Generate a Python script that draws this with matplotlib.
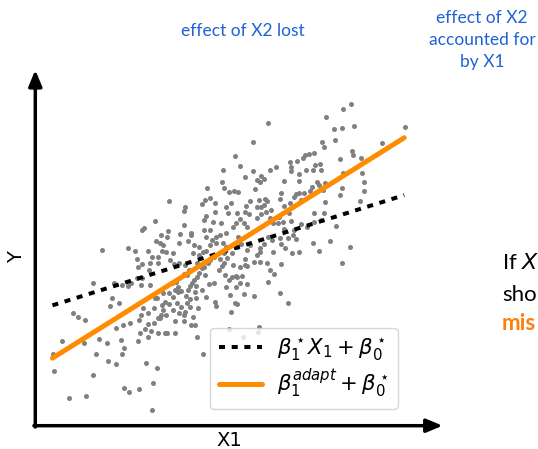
import matplotlib
matplotlib.use("Agg")
import matplotlib.pyplot as plt

# ---- data ----
X1 = [9.20, 8.98, 8.48, 6.77, 9.28, 8.94, 8.71, 10.77, 8.74, 8.34, 6.34, 8.40, 10.10, 9.23, 9.25, 9.49, 8.89, 5.83, 7.85, 7.97,
      8.12, 7.80, 7.62, 7.43, 7.45, 8.15, 8.30, 8.33, 8.10, 7.88, 7.67, 7.46, 7.00, 6.83, 5.97, 5.48, 6.10, 6.33, 6.58, 6.47,
      6.66, 6.54, 6.39, 7.25, 7.68, 9.52, 8.97, 9.59, 9.59, 9.47, 8.93, 8.89, 8.39, 8.44, 8.26, 8.21, 8.05, 8.01, 7.84, 7.68,
      7.59, 7.54, 7.74, 7.43, 7.16, 7.14, 7.26, 7.39, 7.45, 7.22, 7.10, 6.87, 6.75, 6.69, 6.65, 6.57, 6.52, 6.45, 6.26, 6.24,
      6.10, 6.13, 5.92, 5.80, 5.63, 5.50, 5.45, 5.01, 5.10, 4.94, 4.86, 5.24, 5.55, 5.69, 5.62, 5.88, 5.97, 5.85, 5.77, 6.07,
      6.17, 6.47, 6.57, 6.72, 6.83, 6.94, 7.07, 7.25, 7.53, 7.74, 7.92, 8.11, 8.33, 8.42, 8.43, 8.12, 8.75, 8.59, 8.27, 8.09,
      7.69, 7.49, 7.27, 7.17, 9.17, 8.95, 7.59, 7.52, 7.37, 7.14, 6.91, 6.77, 6.65, 6.54, 6.55, 6.46, 6.27, 6.17, 6.12, 6.17,
      6.37, 6.54, 6.75, 6.94, 7.15, 6.85, 6.97, 6.77, 7.13, 7.37, 6.37, 6.09, 6.17, 6.02, 5.84, 5.72, 5.85, 5.67, 5.83, 5.88,
      5.69, 5.56, 5.45, 5.50, 5.35, 5.22, 5.26, 5.08, 4.98, 4.89, 4.76, 4.72, 4.91, 4.95, 4.72, 4.68, 4.64, 4.67, 4.51, 4.52,
      4.74, 4.97, 5.25, 5.26, 4.61, 4.66, 4.70, 4.53, 4.37, 4.18, 4.07, 4.32, 4.01, 4.17, 4.07, 3.89, 3.73, 3.79, 3.68, 3.56,
      3.48, 3.45, 3.29, 3.14, 3.09, 3.01, 3.29, 3.19, 3.38, 3.57, 3.77, 4.07, 4.32, 4.42, 4.47, 4.37, 4.19, 4.05, 3.93, 4.02,
      3.82, 3.69, 3.58, 3.72, 3.52, 3.29, 3.39, 3.57, 3.32, 3.33, 3.07, 3.11, 2.95, 2.80, 2.69, 2.54, 2.29, 2.19, 2.24, 2.45,
      1.69, 1.94, 2.69, 2.90, 2.97, 3.00, 3.12, 3.34, 3.10, 3.17, 3.48, 3.87, 3.85, 3.66, 3.63, 3.90, 4.37, 4.33, 4.32, 4.53,
      4.54, 4.45, 4.22, 4.18, 4.62, 4.59, 4.77, 4.92, 5.09, 5.17, 5.25, 5.42, 5.37, 5.27, 5.47, 5.57, 5.73, 5.87, 5.99, 5.90,
      5.57, 5.15, 4.97, 4.93, 4.98, 1.10, 1.25, 1.44, 0.77, 0.53, 0.54, 0.99, 1.47, 1.43, 1.87, 2.09, 1.78, 1.68, 2.11, 2.34,
      2.49, 2.58, 2.53, 2.36, 2.57, 2.77, 3.00, 3.06, 3.27, 3.23, 3.55, 3.42, 2.59, 2.73, 3.01, 3.40, 4.89, 3.83, 3.63, 3.67,
      5.65, 6.05, 6.49, 6.51, 3.97, 4.09, 4.17, 4.25, 4.38, 4.45, 4.52, 4.56, 4.63, 4.77, 4.87, 5.03, 5.09, 5.37, 5.49, 5.59,
      5.77, 5.97, 6.10, 5.53, 5.64, 5.87, 5.97, 5.22, 5.06, 4.87, 4.12, 3.90, 4.02, 3.72, 3.82, 3.57, 3.46, 4.32, 4.25, 4.42]
Y = [9.64, 9.49, 9.25, 9.08, 8.98, 8.93, 8.90, 8.97, 8.58, 8.51, 8.52, 8.36, 8.49, 8.25, 8.11, 8.02, 7.99, 8.09, 8.13, 8.15,
     8.17, 8.04, 7.93, 7.90, 7.76, 7.81, 7.84, 7.68, 7.67, 7.67, 7.56, 7.64, 7.77, 7.66, 7.80, 7.67, 7.47, 7.65, 7.50, 7.37,
     7.40, 7.31, 7.11, 7.33, 7.34, 7.57, 7.59, 7.31, 7.04, 6.73, 7.12, 6.91, 7.07, 7.29, 7.23, 7.32, 7.17, 7.03, 6.97, 6.99,
     6.94, 6.86, 6.77, 6.67, 6.97, 6.79, 6.60, 6.37, 6.14, 6.12, 6.27, 6.47, 6.74, 6.79, 6.61, 6.57, 6.77, 6.55, 6.73, 6.36,
     6.40, 6.59, 7.00, 7.04, 7.02, 7.14, 7.32, 7.14, 6.82, 6.77, 6.64, 6.69, 6.55, 6.67, 6.39, 6.37, 6.19, 6.09, 5.97, 6.07,
     5.95, 6.22, 6.35, 6.42, 6.22, 6.09, 6.09, 5.90, 5.87, 6.04, 5.97, 6.10, 6.16, 6.37, 6.71, 6.37, 6.00, 5.54, 5.25, 5.47,
     5.21, 5.17, 5.34, 5.44, 5.35, 4.87, 5.59, 5.72, 5.64, 5.64, 5.57, 5.67, 5.46, 5.32, 5.20, 5.11, 5.42, 5.27, 4.99, 4.80,
     4.90, 4.90, 4.89, 5.22, 4.84, 4.67, 4.54, 4.32, 3.99, 3.68, 3.90, 3.95, 4.24, 4.50, 4.50, 4.47, 4.15, 3.93, 3.67, 3.65,
     3.42, 4.17, 4.80, 4.87, 4.67, 5.07, 5.49, 5.41, 5.25, 5.22, 5.11, 4.87, 4.77, 4.52, 4.45, 4.19, 4.02, 3.82, 3.80, 3.57,
     3.52, 3.87, 3.72, 3.60, 3.27, 3.02, 2.65, 3.02, 3.40, 3.37, 3.15, 3.14, 3.87, 4.00, 4.07, 3.97, 3.97, 3.70, 3.62, 3.82,
     3.82, 3.52, 3.37, 3.52, 3.32, 3.17, 3.04, 2.90, 2.85, 2.79, 2.77, 2.77, 4.54, 4.52, 4.67, 4.82, 4.89, 4.84, 4.97, 5.17,
     5.22, 5.25, 5.07, 5.42, 5.53, 5.25, 5.05, 4.87, 4.67, 4.22, 4.22, 4.44, 4.42, 4.27, 4.20, 4.22, 4.27, 3.59, 3.82, 3.69,
     4.29, 5.26, 5.34, 5.24, 4.99, 4.77, 4.85, 4.87, 5.87, 5.94, 6.14, 5.84, 5.65, 5.71, 5.47, 6.73, 6.57, 6.45, 6.02, 5.77,
     5.72, 5.55, 5.74, 5.49, 5.42, 5.17, 5.37, 5.87, 5.87, 6.12, 6.41, 6.09, 5.72, 5.65, 5.49, 5.37, 5.17, 5.37, 5.44, 5.67,
     5.77, 5.57, 5.67, 6.17, 6.29, 3.37, 3.27, 3.17, 2.55, 2.15, 1.65, 0.83, 0.89, 2.47, 2.60, 2.47, 2.15, 1.53, 1.94, 1.85,
     2.57, 2.32, 2.14, 2.92, 3.02, 3.07, 2.55, 2.77, 2.67, 1.89, 1.73, 1.28, 1.14, 1.00, 1.09, 0.47, 2.14, 2.77, 3.22, 3.32,
     2.90, 2.67, 2.82, 2.97, 4.27, 4.32, 4.17, 4.05, 3.90, 4.07, 4.19, 4.27, 4.37, 4.57, 4.72, 4.87, 4.97, 4.99, 5.17, 5.02,
     4.81, 4.77, 4.81, 4.51, 4.37, 4.45, 4.27, 4.29, 4.25, 4.07, 3.67, 3.65, 3.47, 3.47, 3.32, 3.22, 3.07, 3.32, 3.55, 3.67]

line_x = [0.50, 10.75]
naive_slope, naive_intercept = 0.3225, 3.449     # beta1* X1 + beta0*
adapt_slope, adapt_intercept = 0.6449, 1.705     # beta1^adapt + beta0*
labels = [r'$\beta_1^\star X_1 + \beta_0^\star$', r'$\beta_1^{adapt} + \beta_0^\star$']

W, H = 538, 449
fig = plt.figure(figsize=(W / 100, H / 100), dpi=100)
ax = fig.add_axes([35.3 / W, 1 - 425.7 / H, 411.8 / W, 366.7 / H])
ax.set_xlim(0, 12)
ax.set_ylim(0, 11)
ax.axis('off')

ax.scatter(X1, Y, s=13, color='#808080', linewidths=0, zorder=2)

naive_y = [naive_slope * x + naive_intercept for x in line_x]
adapt_y = [adapt_slope * x + adapt_intercept for x in line_x]
ax.plot(line_x, naive_y, color='black', lw=2.9, linestyle=(0, (1.5, 1.65)), zorder=3, label=labels[0])
ax.plot(line_x, adapt_y, color='#ff8c00', lw=3.6, solid_capstyle='round', zorder=4, label=labels[1])

# axes arrows
arrow_kw = dict(arrowstyle='-|>,head_length=0.6,head_width=0.25', lw=2.5, color='black',
                shrinkA=0, shrinkB=0, mutation_scale=16)
ax.annotate('', xy=(0, 10.67), xytext=(0, -0.04), arrowprops=arrow_kw, annotation_clip=False)
ax.annotate('', xy=(11.87, 0), xytext=(-0.04, 0), arrowprops=arrow_kw, annotation_clip=False)

def px(x, y):
    return x / W, 1 - y / H

fig.text(*px(229, 441), 'X1', fontsize=14, ha='center', va='center')
fig.text(*px(17, 257), 'Y', fontsize=14, ha='center', va='center', rotation=90)

blue = '#1f62d6'
fig.text(*px(242.6, 31), 'effect of X2 lost', fontsize=12.5, family='Lato', color=blue,
         ha='center', va='center')
fig.text(*px(482, 40), 'effect of X2\naccounted for\nby X1', fontsize=12.5, family='Lato',
         color=blue, ha='center', va='center', linespacing=1.45)

# partially visible slide text at the right edge
fig.text(*px(502, 269), r'If $X$', fontsize=16, family='Lato',
         color='black', ha='left', va='baseline')
fig.text(*px(502, 301), 'sho', fontsize=16, family='Lato',
         color='black', ha='left', va='baseline')
fig.text(*px(502, 330), 'mis', fontsize=16, family='Lato', fontweight='bold',
         color='#ff7f0e', ha='left', va='baseline')

leg = ax.legend(loc='upper left', bbox_to_anchor=px(210, 328), bbox_transform=fig.transFigure,
                borderaxespad=0, fontsize=15.3, handlelength=2.05, handletextpad=0.7,
                labelspacing=0.2, frameon=True, fancybox=True, framealpha=0.8,
                edgecolor='#cccccc')
leg.set_zorder(5)

fig.savefig('out.png', dpi=100)
